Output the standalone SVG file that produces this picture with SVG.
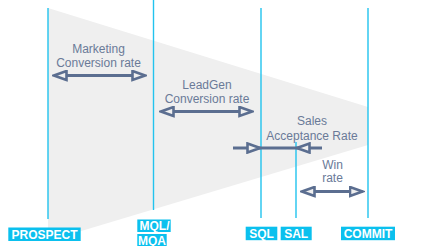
<svg xmlns="http://www.w3.org/2000/svg" width="428" height="247" viewBox="0 0 428 247">
<style>
.stage{stroke:#22C3EE;stroke-width:1.4;fill:none}
.arr{stroke:#5B6E90;stroke-width:3;fill:none}
.lbl{font-family:"Liberation Sans",Arial,sans-serif;font-size:12px;fill:#6A7A98;text-anchor:middle}
.tag rect{fill:#0BC0EE}
.tag text{font-family:"Liberation Sans",Arial,sans-serif;font-size:12px;font-weight:bold;fill:#ffffff;text-anchor:middle}
</style>
<defs>
<marker id="head" viewBox="0 0 16 12" refX="14" refY="6" markerWidth="16" markerHeight="12" markerUnits="userSpaceOnUse" orient="auto-start-reverse">
<path d="M1.5,1.5 L14,6 L1.5,10.5 Z" fill="#EFEFEF" stroke="#5B6E90" stroke-width="2.6" stroke-linejoin="miter"/>
</marker>
</defs>
<rect width="428" height="247" fill="#ffffff"/>
<polygon id="funnel" points="48,8 368,107 368,145 48,241" fill="#EFEFEF"/>
<g id="stages">
<line class="stage" x1="48" y1="8" x2="48" y2="219"/>
<line class="stage" x1="153.5" y1="0" x2="153.5" y2="210"/>
<line class="stage" x1="261" y1="8" x2="261" y2="218"/>
<line class="stage" x1="296" y1="142" x2="296" y2="218"/>
<line class="stage" x1="368" y1="8" x2="368" y2="218"/>
</g>
<g id="connectors">
<line class="arr" x1="54" y1="75.5" x2="145" y2="75.5" marker-start="url(#head)" marker-end="url(#head)"/>
<line class="arr" x1="161" y1="111.5" x2="252" y2="111.5" marker-start="url(#head)" marker-end="url(#head)"/>
<line class="arr" x1="233" y1="148" x2="260" y2="148" marker-end="url(#head)"/>
<line class="arr" x1="260" y1="148" x2="297" y2="148"/>
<line class="arr" x1="322" y1="148" x2="297" y2="148" marker-end="url(#head)"/>
<line class="arr" x1="302" y1="191.5" x2="362.5" y2="191.5" marker-start="url(#head)" marker-end="url(#head)"/>
</g>
<g id="label-marketing">
<text class="lbl" x="98.5" y="52.5">Marketing</text>
<text class="lbl" x="98.5" y="66.5">Conversion rate</text>
</g>
<g id="label-leadgen">
<text class="lbl" x="207" y="88.5">LeadGen</text>
<text class="lbl" x="207" y="103">Conversion rate</text>
</g>
<g id="label-sales">
<text class="lbl" x="312" y="125">Sales</text>
<text class="lbl" x="312" y="139.5">Acceptance Rate</text>
</g>
<g id="label-win">
<text class="lbl" x="332.5" y="168.5">Win</text>
<text class="lbl" x="332.5" y="182">rate</text>
</g>
<g id="node-prospect" class="tag">
<rect x="8.3" y="227.5" width="72.4" height="13.5"/>
<text x="44.5" y="238.5">PROSPECT</text>
</g>
<g id="node-mql" class="tag">
<rect x="137.3" y="219.5" width="33.4" height="12.5"/>
<rect x="137.3" y="234" width="29.4" height="12"/>
<text x="154.5" y="230.3">MQL/</text>
<text x="152" y="244.8">MQA</text>
</g>
<g id="node-sql" class="tag">
<rect x="245.7" y="226.7" width="31.6" height="13.5"/>
<text x="261.5" y="238">SQL</text>
</g>
<g id="node-sal" class="tag">
<rect x="280.7" y="226.7" width="31" height="13.5"/>
<text x="296.2" y="238">SAL</text>
</g>
<g id="node-commit" class="tag">
<rect x="341" y="226.7" width="54" height="13.5"/>
<text x="368" y="238">COMMIT</text>
</g>
</svg>
